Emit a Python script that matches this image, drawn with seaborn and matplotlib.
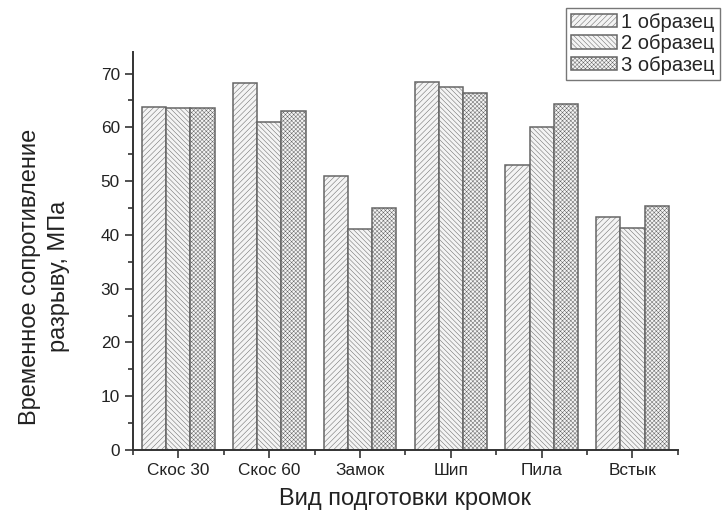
import pandas as pd
import seaborn as sns
import matplotlib.pyplot as plt
from matplotlib.ticker import MultipleLocator, FixedLocator

categories = ["Скос 30", "Скос 60", "Замок", "Шип", "Пила", "Встык"]
samples = ["1 образец", "2 образец", "3 образец"]
sample1 = [63.8, 68.3, 51.0, 68.5, 53.0, 43.3]
sample2 = [63.6, 61.0, 41.0, 67.4, 60.0, 41.2]
sample3 = [63.6, 63.0, 45.0, 66.4, 64.4, 45.3]

df = pd.DataFrame({
    "category": categories * 3,
    "sample": [s for s in samples for _ in categories],
    "value": sample1 + sample2 + sample3,
})

sns.set_theme(style="ticks")
plt.rcParams["font.family"] = ["Liberation Sans", "DejaVu Sans"]
plt.rcParams["hatch.linewidth"] = 0.35

fig = plt.figure(figsize=(7.25, 5.22), dpi=100)
ax = fig.add_axes([0.1834, 0.138, 0.935 - 0.1834, 0.9004 - 0.138])

sns.barplot(df, x="category", y="value", hue="sample",
            palette=["#f4f4f4"] * 3, edgecolor="#666666", linewidth=1.1,
            width=0.8, ax=ax, legend=True)

hatches = ["//////", "\\\\\\\\\\\\\\", "xxxxxxxx"]
for cont, h in zip(ax.containers, hatches):
    for bar in cont:
        bar.set_hatch(h)

ax.set_xlim(-0.5, 5.5)
ax.set_ylim(0, 74)
ax.yaxis.set_major_locator(MultipleLocator(10))
ax.yaxis.set_minor_locator(MultipleLocator(5))
ax.xaxis.set_minor_locator(FixedLocator([-0.5, 0.5, 1.5, 2.5, 3.5, 4.5, 5.5]))
ax.tick_params(which="major", direction="out", length=6, width=1.2,
               color="#333333", labelsize=12.4, labelcolor="#222222")
ax.tick_params(which="minor", direction="out", length=3.5, width=1.2,
               color="#333333")
for side in ["top", "right"]:
    ax.spines[side].set_visible(False)
for side in ["left", "bottom"]:
    ax.spines[side].set_linewidth(1.4)
    ax.spines[side].set_color("#333333")

ax.set_xlabel("Вид подготовки кромок", fontsize=17, labelpad=7, color="#222222")
ax.set_ylabel("Временное сопротивление\nразрыву, МПа", fontsize=17,
              color="#222222", linespacing=1.45)
ax.yaxis.set_label_coords(-0.115, 0.435)

handles, labels = ax.get_legend_handles_labels()
ax.get_legend().remove()
for hd, h in zip(handles, hatches):
    hd.set_hatch(h)
leg = fig.legend(handles, labels, loc="upper right", bbox_to_anchor=(0.998, 0.993),
                 fontsize=14.5, frameon=True, fancybox=False, edgecolor="#555555",
                 handlelength=2.3, handleheight=0.65, handletextpad=0.2,
                 borderpad=0.25, labelspacing=0.12, borderaxespad=0.2)
leg.get_frame().set_linewidth(1.0)

fig.savefig("out.png", dpi=100)
